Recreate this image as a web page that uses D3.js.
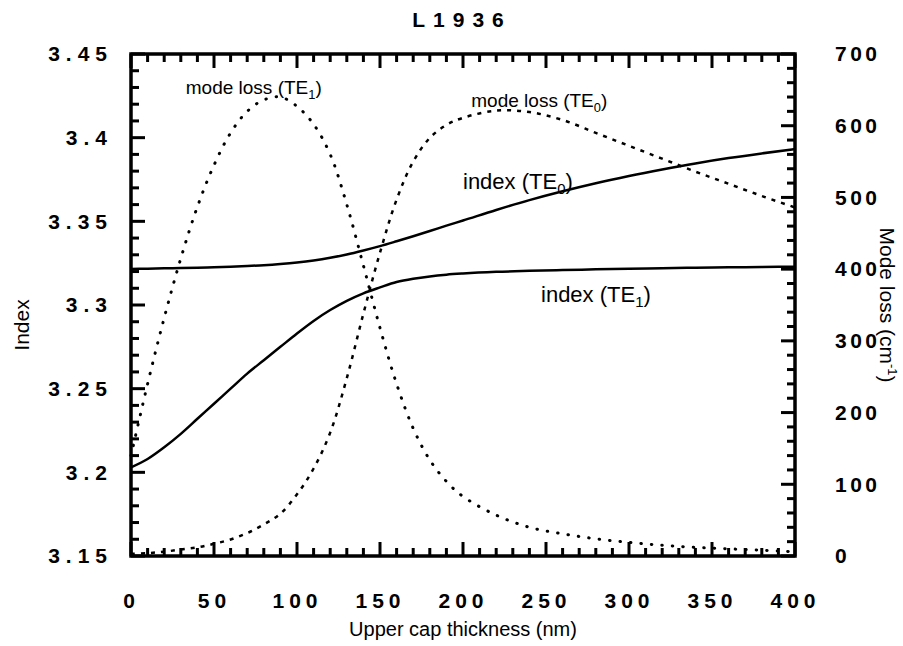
<!DOCTYPE html>
<html>
<head>
<meta charset="utf-8">
<script src="https://cdn.jsdelivr.net/npm/d3@7"></script>
<style>
  body { margin: 0; background: #fff; }
  svg { font-family: 'Liberation Sans', Arial, sans-serif; }
</style>
</head>
<body>
<div id="chart"></div>
<script>
// upper cap thickness (nm)
var thickness = [0, 10, 20, 30, 40, 50, 60, 70, 80, 90, 100, 110, 120, 130, 140, 150, 160, 170, 180, 190, 200, 220, 240, 260, 280, 300, 320, 340, 360, 380, 400];
// effective index, TE0 and TE1
var indexTE0 = [3.3215, 3.3217, 3.3219, 3.3221, 3.3223, 3.3226, 3.3229, 3.3233, 3.3238, 3.3245, 3.3254, 3.3266, 3.3282, 3.3302, 3.3326, 3.3352, 3.3381, 3.3411, 3.3442, 3.3474, 3.3505, 3.3568, 3.3627, 3.3680, 3.3728, 3.3771, 3.3810, 3.3846, 3.3878, 3.3906, 3.3932];
var indexTE1 = [3.203, 3.208, 3.215, 3.223, 3.232, 3.241, 3.250, 3.259, 3.267, 3.275, 3.283, 3.2905, 3.297, 3.3025, 3.307, 3.3105, 3.3137, 3.3157, 3.3171, 3.3181, 3.3188, 3.3198, 3.3204, 3.3209, 3.3213, 3.3217, 3.3220, 3.3223, 3.3225, 3.3227, 3.3229];
// mode loss (cm-1)
var lossTE0 = [3, 4, 6, 9, 12, 17, 23, 32, 44, 59, 86, 122, 172, 248, 338, 423, 497, 550, 583, 601, 611, 621, 619, 608, 590, 572, 554, 536, 519, 502, 486];
var lossTE1 = [140, 240, 332, 415, 487, 545, 590, 620, 636, 640, 627, 602, 560, 490, 405, 318, 240, 178, 134, 104, 83, 57, 40, 31, 24, 19, 15, 12, 10, 8, 6];

var xMajor = [0, 50, 100, 150, 200, 250, 300, 350, 400];
var indexMajor = [3.15, 3.2, 3.25, 3.3, 3.35, 3.4, 3.45];
var lossMajor = [0, 100, 200, 300, 400, 500, 600, 700];

var width = 903, height = 646;
var margin = { left: 131, right: 108, top: 54, bottom: 90 };
var w = width - margin.left - margin.right;
var h = height - margin.top - margin.bottom;

var svg = d3.select('#chart').append('svg')
  .attr('width', width)
  .attr('height', height);
var g = svg.append('g')
  .attr('transform', 'translate(' + margin.left + ',' + margin.top + ')');

var x = d3.scaleLinear().domain([0, 400]).range([0, w]);
var yIdx = d3.scaleLinear().domain([3.15, 3.45]).range([h, 0]);
var yLoss = d3.scaleLinear().domain([0, 700]).range([h, 0]);

var xMinor = d3.range(0, 401, 10).filter(function (v) { return v % 50 !== 0; });
var idxMinor = d3.range(315, 346, 1).filter(function (v) { return v % 5 !== 0; })
  .map(function (v) { return v / 100; });
var lossMinor = d3.range(0, 701, 20).filter(function (v) { return v % 100 !== 0; });

// tick labels from d3 axes
function labels(axis, tx, ty, pad, fmt, spacing) {
  var a = g.append('g')
    .attr('transform', 'translate(' + tx + ',' + ty + ')')
    .call(axis.tickSize(0).tickPadding(pad).tickFormat(fmt));
  a.select('.domain').remove();
  a.selectAll('.tick line').remove();
  a.selectAll('.tick text')
    .attr('fill', '#000')
    .attr('font-family', "'Liberation Sans', Arial, sans-serif")
    .attr('font-size', 21)
    .attr('font-weight', 'bold')
    .attr('letter-spacing', spacing);
}
labels(d3.axisBottom(x).tickValues(xMajor), 0, h, 37, d3.format('d'), 5);
labels(d3.axisLeft(yIdx).tickValues(indexMajor), 0, 0, 18, d3.format('.3~f'), 6);
labels(d3.axisRight(yLoss).tickValues(lossMajor), w, 0, 40, d3.format('d'), 3.5);

// curves
var lineIdx = function (vals) {
  return d3.line()
    .x(function (d, i) { return x(thickness[i]); })
    .y(function (d) { return yIdx(d); })
    .curve(d3.curveMonotoneX)(vals);
};
var lineLoss = function (vals) {
  return d3.line()
    .x(function (d, i) { return x(thickness[i]); })
    .y(function (d) { return yLoss(d); })
    .curve(d3.curveCatmullRom)(vals);
};

g.append('path').attr('d', lineIdx(indexTE0))
  .attr('fill', 'none').attr('stroke', '#000').attr('stroke-width', 2.5);
g.append('path').attr('d', lineIdx(indexTE1))
  .attr('fill', 'none').attr('stroke', '#000').attr('stroke-width', 2.5);
g.append('path').attr('d', lineLoss(lossTE0))
  .attr('fill', 'none').attr('stroke', '#000').attr('stroke-width', 2.5)
  .attr('stroke-dasharray', '4,6');
g.append('path').attr('d', lineLoss(lossTE1))
  .attr('fill', 'none').attr('stroke', '#000').attr('stroke-width', 3)
  .attr('stroke-linecap', 'round')
  .attr('stroke-dasharray', '0.5,10');

// frame
g.append('rect')
  .attr('width', w).attr('height', h)
  .attr('fill', 'none').attr('stroke', '#000').attr('stroke-width', 3.5);

// in-plot labels
function label(px, py, main, sub, size) {
  var t = g.append('text')
    .attr('x', px).attr('y', py)
    .attr('font-size', size)
    .attr('fill', '#000');
  t.append('tspan').text(main);
  t.append('tspan').attr('font-size', size * 0.68).attr('dy', 5).text(sub);
  t.append('tspan').attr('dy', -5).text(')');
}
label(x(33), yLoss(644), 'mode loss (TE', '1', 19);
label(x(205), yLoss(626), 'mode loss (TE', '0', 19);
label(x(200), yIdx(3.3694), 'index (TE', '0', 22);
label(x(247), yIdx(3.3015), 'index (TE', '1', 22);

// title and axis titles
svg.append('text')
  .attr('x', 462).attr('y', 27)
  .attr('text-anchor', 'middle')
  .attr('font-size', 21).attr('font-weight', 'bold')
  .attr('letter-spacing', 8)
  .text('L1936');

svg.append('text')
  .attr('x', margin.left + w / 2).attr('y', 636)
  .attr('text-anchor', 'middle')
  .attr('font-size', 20)
  .text('Upper cap thickness (nm)');

svg.append('text')
  .attr('transform', 'translate(29,' + (margin.top + h / 2 + 20) + ') rotate(-90)')
  .attr('text-anchor', 'middle')
  .attr('font-size', 21)
  .text('Index');

var rt = svg.append('text')
  .attr('transform', 'translate(880,305) rotate(90)')
  .attr('text-anchor', 'middle')
  .attr('font-size', 21);
rt.append('tspan').text('Mode loss (cm');
rt.append('tspan').attr('font-size', 13).attr('dy', -8).text('-1');
rt.append('tspan').attr('dy', 8).text(')');

// inward ticks on all four sides
var tickLayer = svg.append('g')
  .attr('transform', 'translate(' + margin.left + ',' + margin.top + ')');
function tickMarks(vals, scale, side, len) {
  tickLayer.append('g').selectAll('line')
    .data(vals)
    .join('line')
    .attr('x1', function (d) { return side === 'left' ? 0 : side === 'right' ? w : scale(d); })
    .attr('x2', function (d) { return side === 'left' ? len : side === 'right' ? w - len : scale(d); })
    .attr('y1', function (d) { return side === 'top' ? 0 : side === 'bottom' ? h : scale(d); })
    .attr('y2', function (d) { return side === 'top' ? len : side === 'bottom' ? h - len : scale(d); })
    .style('stroke', '#000')
    .style('stroke-width', '3px');
}
tickMarks(xMinor, x, 'bottom', 8);
tickMarks(xMajor, x, 'bottom', 14);
tickMarks(xMinor, x, 'top', 8);
tickMarks(xMajor, x, 'top', 14);
tickMarks(idxMinor, yIdx, 'left', 8);
tickMarks(indexMajor, yIdx, 'left', 14);
tickMarks(lossMinor, yLoss, 'right', 8);
tickMarks(lossMajor, yLoss, 'right', 14);
</script>
</body>
</html>
